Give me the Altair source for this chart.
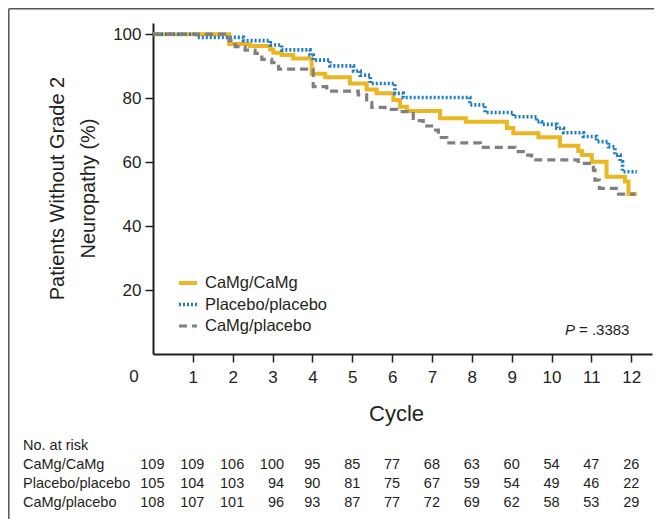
import altair as alt
import pandas as pd

groups = ["CaMg/CaMg", "Placebo/placebo", "CaMg/placebo"]
colors = ["#EBB622", "#1A7CC1", "#808080"]
dashes = [[1, 0], [2, 2], [8, 5]]
widths = [4.0, 3.2, 4.2]

camg_t = [0, 1.91, 2.43, 2.94, 3.02, 3.23, 3.52, 3.98, 4.32, 4.94, 5.36, 5.61, 6.03, 6.20,
          6.37, 7.20, 7.85, 8.88, 9.04, 9.67, 10.21, 10.67, 10.76, 11.01, 11.38, 11.84, 11.93, 12.14]
camg_s = [100, 96.9, 96.3, 95.2, 94.2, 93.5, 92.4, 87.6, 86.5, 84.6, 82.7, 81.5, 79.4, 77.3,
          76.0, 73.7, 72.6, 70.7, 69.0, 67.8, 65.1, 63.5, 62.2, 60.1, 55.4, 53.9, 50.0, 50.0]

plac_t = [0, 1.10, 2.27, 2.94, 3.23, 3.94, 4.02, 4.44, 5.03, 5.20, 5.45, 6.07, 6.28, 7.95,
          8.33, 9.04, 9.63, 9.75, 10.13, 10.30, 10.80, 11.13, 11.43, 11.59, 11.72, 11.78, 12.14]
plac_s = [100, 99.0, 98.0, 96.6, 95.1, 93.5, 91.9, 90.1, 88.5, 87.2, 84.6, 81.5, 80.2, 77.9,
          75.5, 74.2, 72.6, 71.8, 70.6, 69.2, 68.0, 66.4, 64.8, 62.2, 60.1, 57.0, 57.0]

cp_t = [0, 1.91, 2.06, 2.31, 2.56, 2.73, 2.98, 3.15, 4.02, 4.36, 5.15, 5.36, 5.49, 5.82, 6.11,
        6.53, 6.78, 6.99, 7.16, 7.37, 8.21, 9.08, 9.29, 9.50, 10.67, 11.05, 11.09, 11.20, 11.68, 12.10]
cp_s = [100, 98.0, 96.1, 95.0, 94.0, 92.1, 91.1, 89.1, 83.6, 82.2, 81.0, 78.6, 77.1, 76.5, 75.8,
        73.0, 71.3, 70.0, 67.7, 66.0, 64.6, 63.3, 62.2, 60.7, 59.6, 57.5, 54.4, 51.8, 50.0, 50.0]

risk_cycles = list(range(13))
camg_risk = [109, 109, 106, 100, 95, 85, 77, 68, 63, 60, 54, 47, 26]
plac_risk = [105, 104, 103, 94, 90, 81, 75, 67, 59, 54, 49, 46, 22]
cp_risk = [108, 107, 101, 96, 93, 87, 77, 72, 69, 62, 58, 53, 29]

x_ticks = list(range(1, 13))
y_ticks = [20, 40, 60, 80, 100]
p_text = "= .3383"

FONT = "Liberation Sans"
AX = "#231F20"
W, H = 499, 331

rows = []
for g, ts, ss in zip(groups, [camg_t, plac_t, cp_t], [camg_s, plac_s, cp_s]):
    for t, s in zip(ts, ss):
        rows.append({"group": g, "t": t, "s": s})
km = pd.DataFrame(rows)

risk_rows = []
for i, (g, ns) in enumerate(zip(groups, [camg_risk, plac_risk, cp_risk])):
    for c, n in zip(risk_cycles, ns):
        risk_rows.append({"group": g, "row": i, "t": c, "n": str(n)})
risk = pd.DataFrame(risk_rows)
labels_df = pd.DataFrame({"group": groups, "row": list(range(len(groups)))})

xs = alt.Scale(domain=[0, 12.52], nice=False, zero=False)
ys = alt.Scale(domain=[0, 103.5], nice=False, zero=False)
row_scale = alt.Scale(domain=[0, 2], range=[442, 480.3], nice=False, zero=False)

leg = alt.Legend(title=None, orient="none", legendX=24, legendY=249, padding=0,
                 symbolType="stroke", symbolSize=324, symbolStrokeWidth=4,
                 labelFontSize=16.5, labelFont=FONT, labelColor="#231F20",
                 labelOffset=6, rowPadding=1.5, labelLimit=300)

lines = alt.Chart(km).mark_line(interpolate="step-after").encode(
    x=alt.X("t:Q", scale=xs, title="Cycle",
            axis=alt.Axis(values=x_ticks, grid=False, tickSize=8, tickWidth=1.5,
                          tickColor=AX, domainColor=AX, domainWidth=2,
                          labelFontSize=17, labelFont=FONT, labelColor=AX, labelPadding=7,
                          titleFontSize=22, titleFont=FONT, titleFontWeight="normal",
                          titleColor=AX, titleX=243, titleY=66, titleBaseline="alphabetic")),
    y=alt.Y("s:Q", scale=ys,
            title=["Patients Without Grade 2", "Neuropathy (%)"],
            axis=alt.Axis(values=y_ticks, grid=False, tickSize=8, tickWidth=1.5,
                          tickColor=AX, domainColor=AX, domainWidth=2,
                          labelFontSize=17, labelFont=FONT, labelColor=AX, labelPadding=4,
                          titleFontSize=20, titleFont=FONT, titleFontWeight="normal",
                          titleColor=AX, titleAngle=-90, titleX=-96, titleY=165,
                          titleAlign="center", titleBaseline="middle", titleLineHeight=31)),
    color=alt.Color("group:N", scale=alt.Scale(domain=groups, range=colors), legend=leg),
    strokeDash=alt.StrokeDash("group:N", scale=alt.Scale(domain=groups, range=dashes), legend=leg),
    strokeWidth=alt.StrokeWidth("group:N", scale=alt.Scale(domain=groups, range=widths), legend=None),
)

zero = alt.Chart(pd.DataFrame({"t": [0], "lab": ["0"]})).mark_text(
    dx=-19, baseline="top", align="center", fontSize=17, font=FONT, color=AX
).encode(x=alt.X("t:Q", scale=xs), y=alt.value(346), text="lab:N")

p_italic = alt.Chart(pd.DataFrame({"lab": ["P"]})).mark_text(
    align="right", baseline="alphabetic", fontSize=15, font=FONT, fontStyle="italic", color=AX
).encode(x=alt.value(422), y=alt.value(312), text="lab:N")
p_rest = alt.Chart(pd.DataFrame({"lab": [p_text]})).mark_text(
    align="left", baseline="alphabetic", fontSize=15, font=FONT, color=AX
).encode(x=alt.value(426), y=alt.value(312), text="lab:N")

risk_a = alt.Chart(risk[risk["t"] <= 3]).mark_text(
    align="right", baseline="middle", dx=11.5, fontSize=14.5, font=FONT, color=AX
).encode(x=alt.X("t:Q", scale=xs), y=alt.Y("row:Q", scale=row_scale, axis=None), text="n:N")
risk_b = alt.Chart(risk[risk["t"] > 3]).mark_text(
    align="right", baseline="middle", dx=8, fontSize=14.5, font=FONT, color=AX
).encode(x=alt.X("t:Q", scale=xs), y=alt.Y("row:Q", scale=row_scale, axis=None), text="n:N")

row_labels = alt.Chart(labels_df).mark_text(
    align="left", baseline="middle", fontSize=14.5, font=FONT, color=AX
).encode(x=alt.value(-130), y=alt.Y("row:Q", scale=row_scale, axis=None), text="group:N")

risk_title = alt.Chart(pd.DataFrame({"lab": ["No. at risk"]})).mark_text(
    align="left", baseline="middle", fontSize=14.5, font=FONT, color=AX
).encode(x=alt.value(-130), y=alt.value(423), text="lab:N")

frame_df = pd.DataFrame({"a": [0]})
frame_top = alt.Chart(frame_df).mark_rule(color="#555555", strokeWidth=1.5).encode(
    x=alt.value(-144.2), x2=alt.value(W + 2), y=alt.value(-14.2))
frame_left = alt.Chart(frame_df).mark_rule(color="#555555", strokeWidth=1.5).encode(
    x=alt.value(-144.2), y=alt.value(-14.2), y2=alt.value(H + 165))

chart = alt.layer(
    lines, zero, p_italic, p_rest, risk_a, risk_b, row_labels, risk_title, frame_top, frame_left
).resolve_scale(y="independent").properties(
    width=W, height=H,
    autosize=alt.AutoSizeParams(type="none"),
    padding={"left": 145, "top": 15, "right": 2, "bottom": 165},
).configure_view(stroke=None)

chart.save("out.html", embed_options={"renderer": "svg", "actions": False})
